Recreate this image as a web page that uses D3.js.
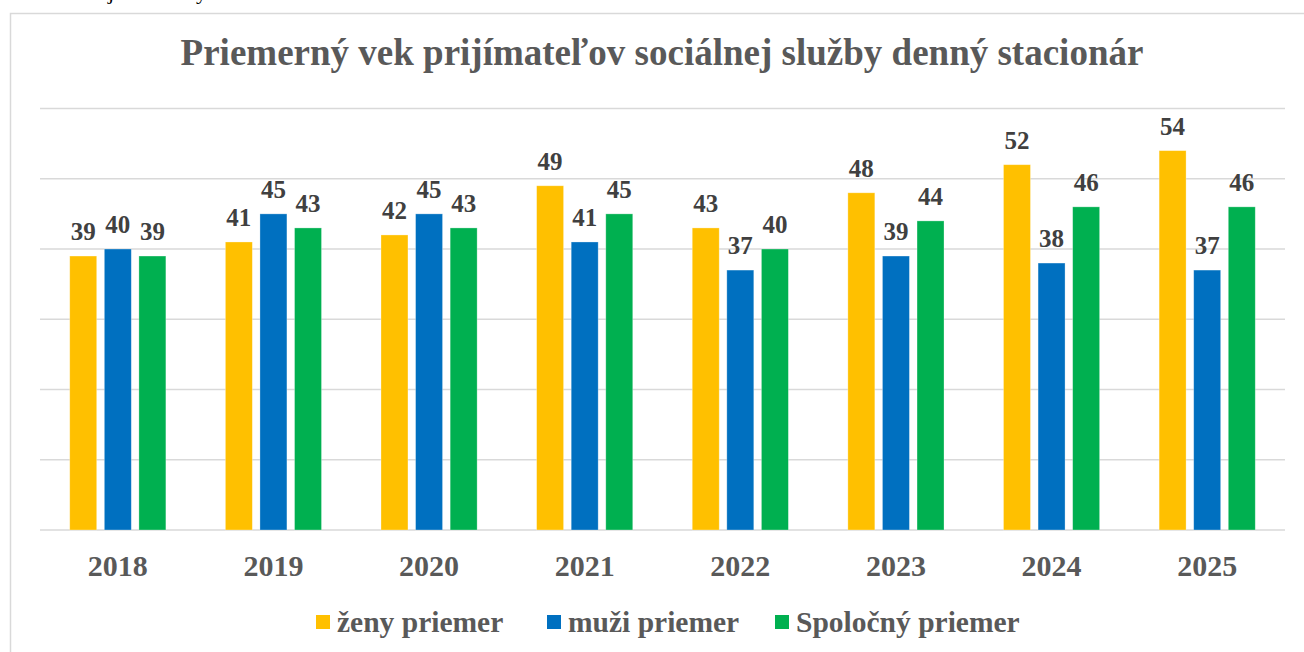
<!DOCTYPE html>
<html>
<head>
<meta charset="utf-8">
<script src="https://cdn.jsdelivr.net/npm/d3@7"></script>
<style>
  html, body { margin: 0; padding: 0; background: #fff; }
  svg { display: block; }
</style>
</head>
<body>
<div id="chart"></div>
<script>
const years = ['2018', '2019', '2020', '2021', '2022', '2023', '2024', '2025'];
const seriesNames = ['ženy priemer', 'muži priemer', 'Spoločný priemer'];
const zeny = [39, 41, 42, 49, 43, 48, 52, 54];
const muzi = [40, 45, 45, 41, 37, 39, 38, 37];
const spolocny = [39, 43, 43, 45, 40, 44, 46, 46];
const yTicks = [0, 10, 20, 30, 40, 50, 60];
const title = 'Priemerný vek prijímateľov sociálnej služby denný stacionár';

const colors = ['#ffc000', '#0070c0', '#00b050'];
const seriesValues = [zeny, muzi, spolocny];
const font = "'Liberation Serif', 'Times New Roman', Tinos, 'DejaVu Serif', serif";

const width = 1304;
const height = 652;

const svg = d3.select('#chart').append('svg')
  .attr('width', width)
  .attr('height', height)
  .style('font-family', font)
  .style('font-weight', 'bold');

// leftover text from the page above (only descenders visible)
svg.append('text').attr('x', 108).attr('y', -1).attr('font-size', 22)
  .style('font-weight', 'normal').attr('fill', '#000').text('j');
svg.append('text').attr('x', 196).attr('y', -1).attr('font-size', 22)
  .style('font-weight', 'normal').attr('fill', '#000').text('y');

// chart frame
svg.append('rect')
  .attr('x', 10.5).attr('y', 13.5)
  .attr('width', 1320).attr('height', 660)
  .attr('fill', 'none')
  .attr('stroke', '#d9d9d9')
  .attr('stroke-width', 1.5);

svg.append('text')
  .attr('x', 662).attr('y', 65)
  .attr('text-anchor', 'middle')
  .attr('font-size', 37)
  .attr('fill', '#595959')
  .text(title);

const x = d3.scaleBand().domain(years).range([40, 1285]);
const xSub = d3.scaleBand().domain(d3.range(3)).range([0, x.bandwidth()])
  .paddingInner(0.22).paddingOuter(0.86);
const y = d3.scaleLinear().domain([0, 60]).range([530, 108.5]);

// gridlines
svg.append('g').selectAll('line').data(yTicks).join('line')
  .attr('x1', 40).attr('x2', 1285)
  .attr('y1', d => y(d)).attr('y2', d => y(d))
  .attr('stroke', '#d9d9d9')
  .attr('stroke-width', 1.5);

const rows = years.map((yr, i) => ({ year: yr, values: seriesValues.map(s => s[i]) }));

const groups = svg.append('g').selectAll('g').data(rows).join('g')
  .attr('transform', d => `translate(${x(d.year)},0)`);

groups.selectAll('rect').data(d => d.values).join('rect')
  .attr('x', (d, i) => xSub(i))
  .attr('y', d => y(d))
  .attr('width', xSub.bandwidth())
  .attr('height', d => y(0) - y(d))
  .attr('fill', (d, i) => colors[i])
  .attr('stroke', '#ffffff')
  .attr('stroke-opacity', 0.4)
  .attr('stroke-width', 0.75);

groups.selectAll('text.lbl').data(d => d.values).join('text')
  .attr('class', 'lbl')
  .attr('x', (d, i) => xSub(i) + xSub.bandwidth() / 2)
  .attr('y', d => y(d) - 16)
  .attr('text-anchor', 'middle')
  .attr('font-size', 25)
  .attr('fill', '#404040')
  .text(d => d);

// x axis labels
svg.append('g').selectAll('text').data(years).join('text')
  .attr('x', d => x(d) + x.bandwidth() / 2)
  .attr('y', 576)
  .attr('text-anchor', 'middle')
  .attr('font-size', 30)
  .attr('fill', '#595959')
  .text(d => d);

// legend
const legendX = [316, 547, 775];
const legend = svg.append('g').selectAll('g').data(seriesNames).join('g')
  .attr('transform', (d, i) => `translate(${legendX[i]},0)`);
legend.append('rect')
  .attr('x', 0).attr('y', 615)
  .attr('width', 14).attr('height', 14)
  .attr('fill', (d, i) => colors[i]);
legend.append('text')
  .attr('x', 21).attr('y', 632)
  .attr('font-size', 29.5)
  .attr('fill', '#595959')
  .text(d => d);
</script>
</body>
</html>
